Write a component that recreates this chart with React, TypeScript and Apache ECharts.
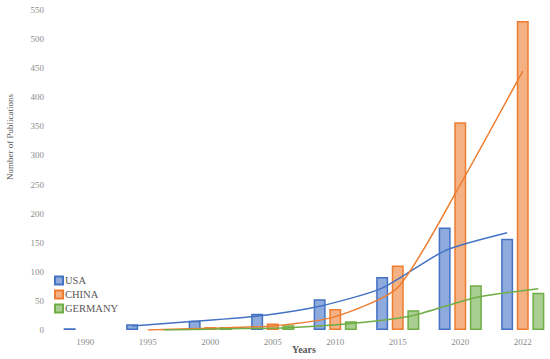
import React, { useEffect, useRef } from "react";
import * as echarts from "echarts";

const years = ["1990", "1995", "2000", "2005", "2010", "2015", "2020", "2022"];
const usaBars = [3, 10, 16, 28, 53, 91, 176, 157];
const chinaBars = [null, null, 5, 11, 36, 111, 357, 531];
const germanyBars = [null, null, 5, 8, 15, 34, 77, 64];
const usaTrend = [null, 7, 15, 24, 41, 72, 136, 167];
const chinaTrend = [null, 0, 3, 7, 23, 73, 250, 445];
const germanyTrend = [null, 0, 2, 4, 11, 25, 56, 71];
const yTicks = { min: 0, max: 550, interval: 50 };

const FONT = "'Liberation Serif', 'DejaVu Serif', serif";
const BLUE = "#4472C4";
const ORANGE = "#ED7D31";
const GREEN = "#70AD47";

export default function App() {
  const ref = useRef<HTMLDivElement>(null);
  useEffect(() => {
    if (!ref.current) return;
    const chart = echarts.init(ref.current, undefined, { renderer: "svg" });
    const L = 54, R = -4, T = 10, B = 29, OFF = 15.6;
    const hiddenX = (gi: number) => ({
      type: "category" as const,
      data: years,
      gridIndex: gi,
      show: false,
    });
    const hiddenY = (gi: number) => ({
      type: "value" as const,
      gridIndex: gi,
      show: false,
      ...yTicks,
    });
    const barSeries = (name: string, data: (number | null)[], color: string) => ({
      name,
      type: "bar" as const,
      data,
      barWidth: 12,
      barGap: "30%",
      itemStyle: {
        color: echarts.color.modifyAlpha(color, 0.6),
        borderColor: color,
        borderWidth: 1.5,
      },
    });
    const lineSeries = (name: string, data: (number | null)[], color: string, gi: number) => ({
      name: name + " trend",
      type: "line" as const,
      data,
      xAxisIndex: gi,
      yAxisIndex: gi,
      smooth: 0.22,
      showSymbol: false,
      symbol: "none",
      lineStyle: { color, width: 1.5 },
      itemStyle: { color },
      z: 5,
    });
    const gridBase = { top: T, bottom: B, containLabel: false, outerBoundsMode: "none" };
    chart.setOption({
      animation: false,
      backgroundColor: "#ffffff",
      textStyle: { fontFamily: FONT },
      grid: [
        { ...gridBase, left: L, right: R },
        { ...gridBase, left: L - OFF, right: R + OFF },
        { ...gridBase, left: L + OFF, right: R - OFF },
      ],
      legend: {
        data: ["USA", "CHINA", "GERMANY"],
        orient: "vertical",
        left: 54,
        top: 275,
        padding: 0,
        itemWidth: 8,
        itemHeight: 8,
        itemGap: 3,
        icon: "rect",
        textStyle: { fontFamily: FONT, fontSize: 10.5, color: "#595959", padding: [0, 0, 0, -3] },
      },
      xAxis: [
        {
          type: "category",
          data: years,
          gridIndex: 0,
          axisLine: { show: false },
          axisTick: { show: false },
          axisLabel: { color: "#8c8c8c", fontSize: 9, fontFamily: FONT, margin: 7 },
        },
        hiddenX(1),
        hiddenX(2),
      ],
      yAxis: [
        {
          type: "value",
          gridIndex: 0,
          ...yTicks,
          axisLine: { show: false },
          axisTick: { show: false },
          splitLine: { show: false },
          axisLabel: { color: "#8c8c8c", fontSize: 9, fontFamily: FONT, margin: 10 },
        },
        hiddenY(1),
        hiddenY(2),
      ],
      graphic: [
        {
          type: "text",
          x: 10,
          y: 137,
          rotation: Math.PI / 2,
          style: {
            text: "Number of Publications",
            fill: "#595959",
            font: "9px " + FONT,
            align: "center",
            verticalAlign: "middle",
          },
        },
        {
          type: "text",
          x: 304,
          y: 349,
          style: {
            text: "Years",
            fill: "#595959",
            font: "bold 10px " + FONT,
            align: "center",
            verticalAlign: "middle",
          },
        },
      ],
      series: [
        barSeries("USA", usaBars, BLUE),
        barSeries("CHINA", chinaBars, ORANGE),
        barSeries("GERMANY", germanyBars, GREEN),
        lineSeries("USA", usaTrend, BLUE, 1),
        lineSeries("CHINA", chinaTrend, ORANGE, 0),
        lineSeries("GERMANY", germanyTrend, GREEN, 2),
      ],
    });
    return () => chart.dispose();
  }, []);
  return <div ref={ref} style={{ width: 550, height: 359, position: "absolute", left: 0, top: 0 }} />;
}
